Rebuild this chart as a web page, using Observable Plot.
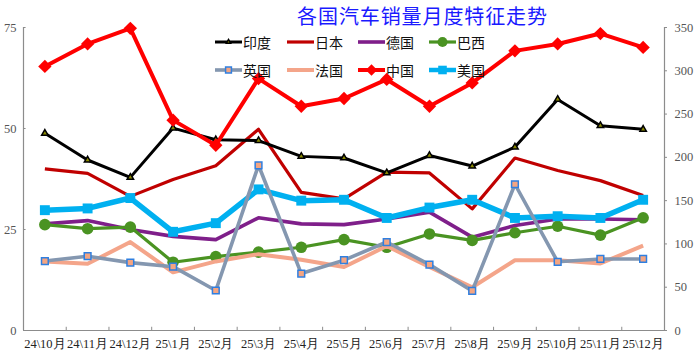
<!DOCTYPE html>
<html><head><meta charset="utf-8">
<script src="https://cdn.jsdelivr.net/npm/d3@7"></script>
<script src="https://cdn.jsdelivr.net/npm/@observablehq/plot@0.6"></script>
<style>
body{margin:0;background:#fff;}
#wrap{position:relative;width:700px;height:355px;overflow:hidden;}
#title{position:absolute;left:0;width:845px;top:3px;text-align:center;font-family:"Noto Sans CJK SC",sans-serif;font-size:20px;letter-spacing:0.9px;color:#1a1aff;line-height:26px;}
.lg{position:absolute;display:flex;align-items:center;font-family:"Noto Sans CJK SC",sans-serif;font-size:14px;color:#111;line-height:16px;}
.lg svg{margin-right:1px;}
</style></head>
<body><div id="wrap"><div id="title">各国汽车销量月度特征走势</div></div>
<script>
const months = ["24\\10月","24\\11月","24\\12月","25\\1月","25\\2月","25\\3月","25\\4月","25\\5月","25\\6月","25\\7月","25\\8月","25\\9月","25\\10月","25\\11月","25\\12月"];
// left axis series
const india   = [48.8, 42.2, 37.9, 50.1, 47.2, 47.0, 43.1, 42.7, 39.0, 43.3, 40.7, 45.4, 57.2, 50.7, 49.8];
const japan   = [40.0, 38.9, 33.2, 37.4, 40.8, 49.8, 34.2, 32.6, 39.2, 39.0, 30.1, 42.7, 39.6, 37.1, 33.4];
const germany = [26.4, 27.2, 25.0, 23.3, 22.5, 27.9, 26.4, 26.2, 27.6, 29.3, 23.1, 26.0, 27.6, 27.6, 27.4];
const brazil  = [26.2, 25.2, 25.6, 16.9, 18.3, 19.4, 20.6, 22.5, 20.6, 23.9, 22.3, 24.2, 25.8, 23.6, 27.9];
const uk      = [17.2, 18.4, 16.8, 15.8, 9.9, 40.9, 14.1, 17.4, 21.9, 16.3, 9.8, 36.2, 17.0, 17.7, 17.7];
const france  = [17.1, 16.5, 21.9, 14.4, 17.1, 18.9, 17.5, 15.7, 20.9, 15.7, 10.7, 17.4, 17.4, 16.6, 21.0];
// right axis series
const china   = [305, 331, 349, 243, 214, 291, 259, 268, 290, 259, 286, 323, 331, 343, 327];
const usa     = [139, 141, 153, 114, 124, 163, 150, 151, 130, 142, 151, 130, 132, 130, 151];
const leftTicks  = [0, 25, 50, 75];
const rightTicks = [0, 50, 100, 150, 200, 250, 300, 350];
const leftMax = 75, rightMax = 350;

const toLeft = v => v * leftMax / rightMax;
const rows = (arr, right) => arr.map((v, i) => ({i, v: right ? toLeft(v) : v}));

const series = [
  {name:"日本", data: rows(japan), stroke:"#c00000", sw:3.2},
  {name:"印度", data: rows(india), stroke:"#000000", sw:3, dot:{symbol:"triangle", r:2.4, fill:"#8a8a00", stroke:"#000", strokeWidth:1.5}},
  {name:"德国", data: rows(germany), stroke:"#7f1f8a", sw:3.6},
  {name:"巴西", data: rows(brazil), stroke:"#4a9322", sw:3.2, dot:{symbol:"circle", r:5.8, fill:"#4a9322"}},
  {name:"美国", data: rows(usa, true), stroke:"#00b0f0", sw:5.5, dot:{symbol:"square", r:5.6, fill:"#00b0f0"}},
  {name:"法国", data: rows(france), stroke:"#f4a58a", sw:4},
  {name:"英国", data: rows(uk), stroke:"#8497b0", sw:3.6, dot:{symbol:"square", r:3.8, fill:"#f4a582", stroke:"#2f7fe0", strokeWidth:1.5}},
  {name:"中国", data: rows(china, true), stroke:"#ff0000", sw:4, dot:{symbol:"diamond2", r:6, fill:"#ff0000"}}
];

const marks = [];
for (const s of series) {
  marks.push(Plot.line(s.data, {x:"i", y:"v", stroke:s.stroke, strokeWidth:s.sw, strokeLinejoin:"round", strokeLinecap:"butt"}));
  if (s.dot) marks.push(Plot.dot(s.data, {x:"i", y:"v", ...s.dot}));
}

const axisColor = "#8c8c8c";
const bounds = d3.range(months.length + 1).map(k => k - 0.5);
const chart = Plot.plot({
  width:700, height:355,
  marginLeft:23, marginRight:36, marginTop:27, marginBottom:25,
  style:{fontFamily:"'Liberation Serif', serif", fontSize:"12.5px", color:"#404040", background:"#fff"},
  x:{type:"linear", domain:[-0.5, months.length - 0.5], axis:null, label:null},
  y:{domain:[0, leftMax], axis:null, label:null},
  marks:[
    Plot.ruleX([-0.5, months.length - 0.5], {stroke:axisColor, strokeWidth:1.2}),
    Plot.ruleY([0], {stroke:axisColor, strokeWidth:1.2}),
    Plot.ruleX(bounds, {x:d=>d, y1:0, y2:0.8, stroke:axisColor}),
    Plot.ruleY(leftTicks, {y:d=>d, x1:-0.5, x2:-0.44, stroke:axisColor}),
    Plot.ruleY(rightTicks.map(toLeft), {y:d=>d, x1:months.length - 0.5, x2:months.length - 0.43, stroke:axisColor}),
    Plot.axisX(d3.range(months.length), {tickSize:0, tickPadding:9, tickFormat:i=>months[i], fill:"#222", label:null}),
    Plot.axisY(leftTicks, {anchor:"left", tickSize:0, tickPadding:7, fill:"#555", label:null}),
    Plot.axisY(rightTicks.map(toLeft), {anchor:"right", tickSize:0, tickPadding:10, tickFormat:d=>Math.round(d * rightMax / leftMax), fill:"#555", label:null}),
    ...marks
  ]
});
const wrap = document.getElementById("wrap");
wrap.insertBefore(chart, wrap.firstChild);
chart.style.position = "absolute"; chart.style.left = "0"; chart.style.top = "0";

// legend
const legendOrder = [["印度","日本","德国","巴西"],["英国","法国","中国","美国"]];
const legendX = [215, 287, 358, 429], legendY = [42, 70];
const byName = Object.fromEntries(series.map(s => [s.name, s]));
legendOrder.forEach((row, r) => row.forEach((name, c) => {
  const s = byName[name];
  const el = document.createElement("div");
  el.className = "lg";
  el.style.left = legendX[c] + "px";
  el.style.top = (legendY[r] - 8) + "px";
  const sv = d3.create("svg").attr("width", 27).attr("height", 16);
  sv.append("line").attr("x1", 0).attr("x2", 27).attr("y1", 8).attr("y2", 8)
    .attr("stroke", s.stroke).attr("stroke-width", Math.min(s.sw, 4.5));
  if (s.dot) {
    const sym = {triangle:d3.symbolTriangle2, circle:d3.symbolCircle, square:d3.symbolSquare, diamond2:d3.symbolDiamond2}[s.dot.symbol];
    sv.append("path").attr("transform", "translate(13.5,8)")
      .attr("d", d3.symbol(sym, Math.PI * s.dot.r * s.dot.r * 0.75)())
      .attr("fill", s.dot.fill).attr("stroke", s.dot.stroke || "none").attr("stroke-width", s.dot.strokeWidth || 0);
  }
  el.appendChild(sv.node());
  const t = document.createElement("span"); t.textContent = name; el.appendChild(t);
  wrap.appendChild(el);
}));
</script></body></html>
